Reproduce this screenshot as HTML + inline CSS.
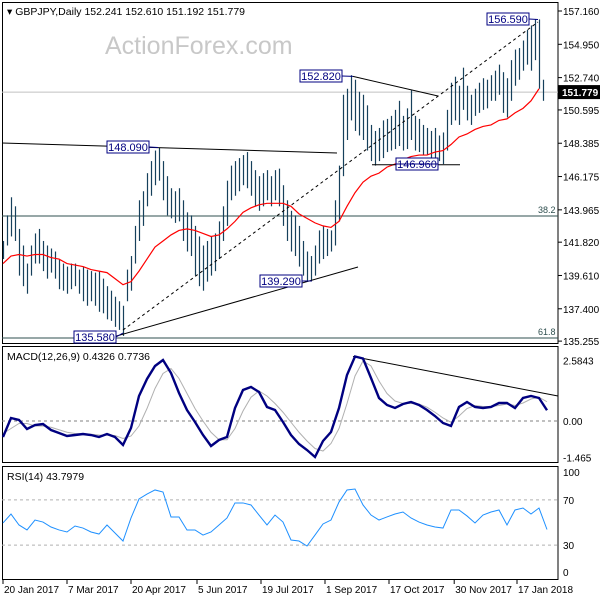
<!DOCTYPE html>
<html><head><meta charset="utf-8"><style>
html,body{margin:0;padding:0;background:#fff;}
svg{display:block;font-family:"Liberation Sans",sans-serif;}
</style></head><body>
<svg id="c" width="600" height="600" viewBox="0 0 600 600"></svg>
<script>
const highs=[141.9,143.6,144.8,144.2,142.7,141.6,140.4,141.6,142.4,142.7,
141.9,141.6,141.4,141.2,140.7,140.4,140.2,140.4,140.4,140.0,
140.2,140.0,139.9,139.8,139.9,139.4,138.9,138.6,138.2,137.9,
137.6,140.0,140.9,142.9,144.6,145.2,146.4,147.2,147.9,148.1,
147.2,146.2,145.4,145.2,145.4,144.6,143.8,143.6,142.9,142.2,
141.6,141.9,142.2,142.4,143.2,144.2,145.9,146.9,147.2,147.4,
147.6,147.8,147.2,146.6,146.2,146.4,146.6,146.2,146.6,146.7,
145.6,144.6,143.9,143.6,142.9,141.9,141.2,140.9,141.6,142.6,
142.9,142.7,142.6,144.6,146.9,151.6,152.0,152.9,152.6,151.8,
151.6,150.9,149.6,149.2,149.4,149.9,150.0,150.2,150.6,151.2,
150.2,150.7,151.9,150.2,150.0,149.6,149.4,149.2,149.4,148.9,
149.1,150.6,152.4,152.8,152.2,153.4,152.2,151.6,152.0,152.4,
152.7,152.6,152.9,153.2,153.6,153.1,152.7,153.9,154.6,154.7,
155.2,155.9,156.2,156.6,156.6,152.6];
const lows=[140.7,141.6,142.2,141.9,139.6,138.9,138.4,139.6,140.4,140.4,
139.9,139.4,139.8,139.4,138.7,138.6,138.4,138.7,138.9,138.4,
137.9,137.6,137.9,137.6,137.2,137.1,136.7,136.6,136.2,136.0,
135.6,137.9,138.6,140.4,141.9,142.9,144.2,144.9,145.6,145.9,
144.6,143.6,143.4,143.1,143.2,141.9,141.2,140.9,139.6,138.9,
138.6,139.2,139.6,139.9,140.7,141.9,142.9,144.6,144.9,145.2,
145.6,145.4,144.9,144.2,143.9,144.2,144.6,144.2,144.6,144.2,
142.9,141.9,141.2,140.9,140.2,139.6,139.2,139.3,139.6,140.4,
140.7,140.9,141.2,141.6,143.2,146.2,148.6,149.9,149.2,148.9,
148.6,147.9,147.2,146.9,147.2,147.4,147.8,147.9,148.0,148.2,
147.9,148.0,148.6,147.9,147.8,147.6,147.6,147.4,147.2,147.2,
147.0,147.9,149.6,149.9,149.6,150.6,149.9,149.6,150.2,150.4,
150.6,150.7,151.2,151.2,151.6,150.4,150.1,151.2,152.2,152.6,
153.2,153.6,153.2,153.9,152.0,151.2];
const ma=[140.4,140.9,141.0,140.9,141.0,141.0,140.8,140.7,140.4,140.3,140.2,140.0,139.9,139.8,139.4,139.0,139.2,139.9,140.7,141.5,141.9,142.3,142.6,142.7,142.6,142.4,142.2,142.3,142.7,143.2,143.8,144.1,144.3,144.4,144.4,144.4,144.2,143.7,143.4,143.1,142.9,142.8,143.2,144.2,145.1,145.8,146.2,146.4,146.8,147.0,147.3,147.5,147.6,147.6,147.8,147.9,148.3,148.8,149.0,149.3,149.5,149.6,149.9,150.0,150.4,150.7,151.2,152.0];
const macd=[-0.64,0.12,0.04,-0.32,-0.16,-0.12,-0.36,-0.48,-0.60,-0.56,-0.52,-0.56,-0.64,-0.52,-0.64,-0.96,-0.28,1.00,1.68,2.20,2.44,1.92,1.12,0.44,-0.04,-0.56,-1.00,-0.76,-0.64,0.52,1.24,1.36,1.16,0.56,0.44,-0.04,-0.56,-0.92,-1.16,-1.44,-0.80,-0.44,0.52,1.84,2.58,2.50,1.72,0.92,0.64,0.52,0.68,0.76,0.64,0.44,0.20,-0.08,-0.20,0.56,0.76,0.56,0.52,0.56,0.72,0.72,0.52,0.92,1.00,0.92,0.43];
const signal=[-0.5,-0.3,-0.1,-0.1,-0.2,-0.2,-0.25,-0.35,-0.45,-0.5,-0.52,-0.53,-0.56,-0.57,-0.58,-0.7,-0.6,-0.2,0.5,1.3,1.9,2.1,1.7,1.1,0.5,0.0,-0.45,-0.75,-0.75,-0.3,0.4,0.95,1.2,1.0,0.7,0.35,-0.05,-0.45,-0.8,-1.1,-1.2,-0.9,-0.3,0.7,1.8,2.4,2.2,1.6,1.1,0.8,0.7,0.7,0.68,0.55,0.35,0.12,-0.05,0.2,0.5,0.62,0.58,0.58,0.62,0.68,0.62,0.72,0.88,0.95,0.77];
const rsi=[49.6,57.5,47.8,43.4,52.2,50.4,46.0,43.4,41.6,46.9,45.1,41.6,39.8,47.8,40.7,33.6,54.0,70.8,75.2,78.8,77.0,54.9,54.9,43.4,43.4,38.9,41.6,47.8,54.0,67.3,67.3,65.5,56.6,47.8,56.6,50.4,34.5,33.6,29.2,38.9,48.7,52.2,68.1,78.8,79.6,65.5,56.6,52.2,54.9,57.5,59.3,54.0,50.4,47.8,46.0,45.1,61.1,61.1,55.8,49.6,56.6,59.3,61.1,47.8,61.1,62.8,57.5,62.8,43.8];
const priceTicks=["157.160","154.950","152.740","150.595","148.385","146.175","143.965","141.820","139.610","137.400","135.255"];
const dateLabels=["20 Jan 2017","7 Mar 2017","20 Apr 2017","5 Jun 2017","19 Jul 2017","1 Sep 2017","17 Oct 2017","30 Nov 2017","17 Jan 2018"];
const dateBars=[0,16,32,48.5,64.5,80.5,96.5,112.8,128.5];

const NS="http://www.w3.org/2000/svg";
const svg=document.getElementById('c');
function py(p){return 11+(157.16-p)*15.07;}
function bx(i){return 3+4*i;}
function mx(k){return 3+8*k;}
function my(v){return 421-v*25;}
function ry(v){return 579-1.13*v;}
function el(tag,attrs,parent){const e=document.createElementNS(NS,tag);for(const k in attrs)e.setAttribute(k,attrs[k]);(parent||svg).appendChild(e);return e;}
function txt(x,y,s,attrs){const t=el('text',Object.assign({x:x,y:y,'font-size':11,fill:'#000'},attrs||{}));t.textContent=s;return t;}

let r;
r=el('rect',{x:2.5,y:2.5,width:555.5,height:341,fill:'none',stroke:'#000'});

r=el('rect',{x:2.5,y:346.5,width:555.5,height:116,fill:'none',stroke:'#000'});

r=el('rect',{x:2.5,y:466.5,width:555.5,height:113,fill:'none',stroke:'#000'});


let t=txt(105,54,'ActionForex.com',{'font-size':25,fill:'#c8c8c8'});

t=txt(7,15,'▾ GBPJPY,Daily  152.241 152.610 151.192 151.779',{'font-size':10.5});


priceTicks.forEach((s,i)=>{const y=py(parseFloat(s));
 let l=el('line',{x1:558,x2:562,y1:y,y2:y,stroke:'#000'});
 
 let tt=txt(563,y+4,s,{'font-size':10});
 
});

let l=el('line',{x1:2,x2:558,y1:py(151.779),y2:py(151.779),stroke:'#c0c0c0'});

l=el('line',{x1:2,x2:558,y1:py(143.56),y2:py(143.56),stroke:'#2f4f4f'});

t=txt(538,py(143.56)-3,'38.2',{'font-size':9,fill:'#2f4f4f'});

l=el('line',{x1:2,x2:558,y1:py(135.46),y2:py(135.46),stroke:'#2f4f4f'});

t=txt(538,py(135.46)-3,'61.8',{'font-size':9,fill:'#2f4f4f'});

r=el('rect',{x:558,y:py(151.779)-7,width:42,height:14,fill:'#000'});

t=txt(562,py(151.779)+4,'151.779',{'font-size':10,fill:'#fff','font-weight':'bold'});


highs.forEach((h,i)=>{const b=el('line',{x1:bx(i)+0.5,x2:bx(i)+0.5,y1:py(h),y2:py(lows[i]),stroke:'#16405c','stroke-width':1.2});
 });

let p=el('polyline',{points:ma.map((v,k)=>mx(k)+','+py(v)).join(' '),fill:'none',stroke:'#ff0000','stroke-width':1.2});


function tl(x1,y1,x2,y2,name,dash){const q=el('line',{x1:x1,y1:y1,x2:x2,y2:y2,stroke:'#000','stroke-width':1,'stroke-dasharray':dash||'none'});}
tl(2,143,337,153,'resistance-trendline');
tl(353,py(152.82),438,96,'triangle-upper-trendline');
tl(372,py(146.96),460,py(146.96),'support-146-line');
tl(113,337,358,267,'rising-support-trendline');
tl(123,330,538,22,'channel-dashed-line','3,3');
tl(353,my(2.58),558,396,'macd-divergence-line');

function box(x,y,s,name,cx,cy){const g=el('g',{});
 el('rect',{x:x,y:y,width:42,height:12,fill:'#fff',stroke:'#000080'},g);
 const tt=el('text',{x:x+21,y:y+10,'font-size':11,fill:'#000080','text-anchor':'middle'},g);tt.textContent=s;
 el('line',{x1:x+42,y1:y+6,x2:cx,y2:cy,stroke:'#000080'},g);}
box(300,70,'152.820','label-152820',353,py(152.82));
box(487,13,'156.590','label-156590',538,py(156.6));
box(396,158,'146.960','label-146960',396,164);
box(107,141,'148.090','label-148090',158,py(148.1));
box(260,275,'139.290','label-139290',312,281);
box(74,331,'135.580','label-135580',123,333);

l=el('line',{x1:2,x2:558,y1:my(0),y2:my(0),stroke:'#808080','stroke-dasharray':'3,3'});

p=el('polyline',{points:signal.map((v,k)=>mx(k)+','+my(v)).join(' '),fill:'none',stroke:'#b0b0b0','stroke-width':1});

p=el('polyline',{points:macd.map((v,k)=>mx(k)+','+my(v)).join(' '),fill:'none',stroke:'#000080','stroke-width':2.4});

t=txt(7,360,'MACD(12,26,9) 0.4326 0.7736',{'font-size':10.5});

[['2.5843',my(2.5843)+8],['0.00',my(0)+4],['-1.465',my(-1.465)+4]].forEach(a=>{const q=txt(563,a[1],a[0],{'font-size':10});});

[70,30].forEach(v=>{const q=el('line',{x1:2,x2:558,y1:ry(v),y2:ry(v),stroke:'#b0b0b0','stroke-dasharray':'3,3'});});
p=el('polyline',{points:rsi.map((v,k)=>mx(k)+','+ry(v)).join(' '),fill:'none',stroke:'#1e90ff','stroke-width':1});

t=txt(7,480,'RSI(14) 43.7979',{'font-size':10.5});

[['100',476],['70',ry(70)+4],['30',ry(30)+4],['0',576]].forEach(a=>{const q=txt(563,a[1],a[0],{'font-size':10});});

dateLabels.forEach((s,i)=>{const x=bx(dateBars[i]);
 const q=el('line',{x1:x,x2:x,y1:579,y2:584,stroke:'#000'});
 const tt=txt(x+1,593,s,{'font-size':10});});
</script>
</body></html>
